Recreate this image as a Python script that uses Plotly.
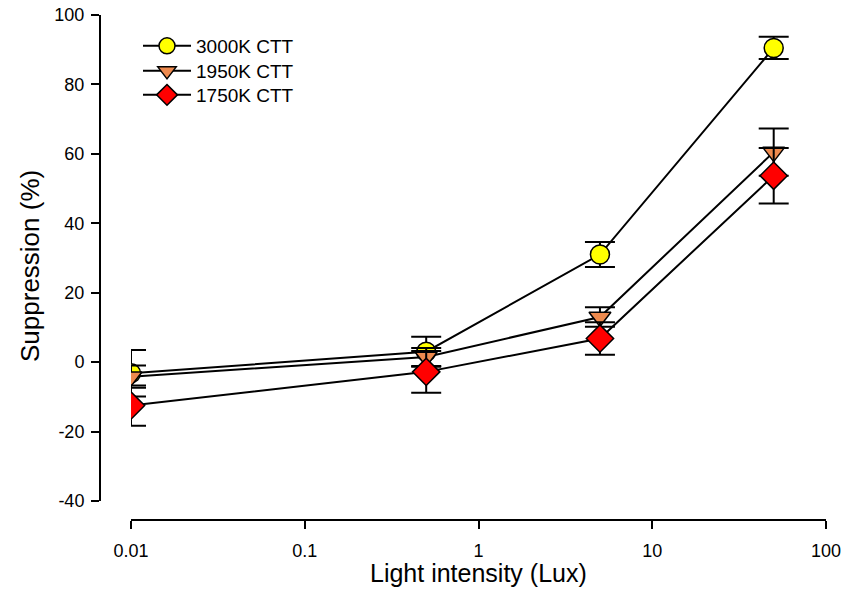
import plotly.graph_objects as go

lux = [0.01, 0.5, 5, 50]
names = ["3000K CTT", "1950K CTT", "1750K CTT"]
vals_3000 = [-3.2, 3.0, 31.0, 90.5]
err_3000 = [6.7, 4.3, 3.6, 3.2]
vals_1950 = [-4.2, 1.5, 13.0, 60.5]
err_1950 = [3.2, 2.6, 2.8, 6.8]
vals_1750 = [-12.5, -2.8, 6.8, 53.7]
err_1750 = [5.8, 6.0, 4.7, 8.0]
y_ticks = [-40, -20, 0, 20, 40, 60, 80, 100]
y_labels = ["-40", "-20", "0", "20", "40", "60", "80", "100"]
x_ticks = [0.01, 0.1, 1, 10, 100]
x_labels = ["0.01", "0.1", "1", "10", "100"]

series = [
    (names[0], vals_3000, err_3000, "circle", "#FFFF00", 19, "legend"),
    (names[1], vals_1950, err_1950, "triangle-down", "#EE8A4E", 19, "legend2"),
    (names[2], vals_1750, err_1750, "diamond", "#FF0000", 21, "legend3"),
]

fig = go.Figure()
for name, v, e, sym, col, sz, lg in series:
    fig.add_trace(go.Scatter(
        x=lux, y=v, name=name, mode="lines+markers", legend=lg,
        line=dict(color="black", width=2),
        marker=dict(symbol=sym, size=sz, color=col, line=dict(color="black", width=1.5)),
        error_y=dict(type="data", array=e, visible=True, color="black", thickness=2, width=15),
        hoverinfo="skip",
    ))

W, H = 848, 590
YAX_X = 100      # y-axis line x (px)
X0, X1 = 131, 826  # x-axis extent (px)
Y_TOP, Y_BOT = 15, 501  # y-axis extent (px)
XAX_Y = 520      # x-axis line y (px)
L, R, T, B = YAX_X, W - X1, Y_TOP, H - XAX_Y
pw = W - L - R
ph = H - T - B

def px_x(x):
    return (x - L) / pw

def px_y(y):
    return (H - B - y) / ph

def legend_box(top):
    return dict(x=px_x(138), y=px_y(top), xanchor="left", yanchor="top",
                bgcolor="rgba(0,0,0,0)", font=dict(size=19), itemwidth=48)

fig.update_layout(
    width=W, height=H,
    margin=dict(l=L, r=R, t=T, b=B, autoexpand=False),
    paper_bgcolor="white", plot_bgcolor="white",
    font=dict(family="Liberation Sans, Arial, sans-serif", color="black", size=18),
    showlegend=True,
    legend=legend_box(27),
    legend2=legend_box(52),
    legend3=legend_box(76),
    xaxis=dict(
        type="log", range=[-2, 2], domain=[px_x(X0), 1],
        anchor="free", position=0, automargin=False,
        tickvals=x_ticks, ticktext=x_labels,
        showline=True, linecolor="black", linewidth=2,
        ticks="outside", ticklen=8, tickwidth=2, tickcolor="black",
        showgrid=False, zeroline=False,
        tickfont=dict(size=18), ticklabelstandoff=6,
    ),
    yaxis=dict(
        range=[-40, 100], domain=[px_y(Y_BOT), 1],
        anchor="free", position=0, automargin=False,
        tickvals=y_ticks, ticktext=y_labels,
        showline=True, linecolor="black", linewidth=2,
        ticks="outside", ticklen=8, tickwidth=2, tickcolor="black",
        showgrid=False, zeroline=False,
        tickfont=dict(size=18), ticklabelstandoff=3,
    ),
    annotations=[
        dict(text="Light intensity (Lux)", xref="paper", yref="paper",
             x=px_x((X0 + X1) / 2), y=px_y(589), xanchor="center", yanchor="bottom",
             showarrow=False, font=dict(size=25)),
        dict(text="Suppression (%)", xref="paper", yref="paper",
             x=px_x(30), y=px_y((Y_TOP + Y_BOT) / 2 + 8), xanchor="center", yanchor="middle",
             textangle=-90, showarrow=False, font=dict(size=26)),
    ],
)
fig.write_html("out.html", config={"displayModeBar": False},
               post_script="document.body.style.margin='0';document.body.style.padding='0';")
